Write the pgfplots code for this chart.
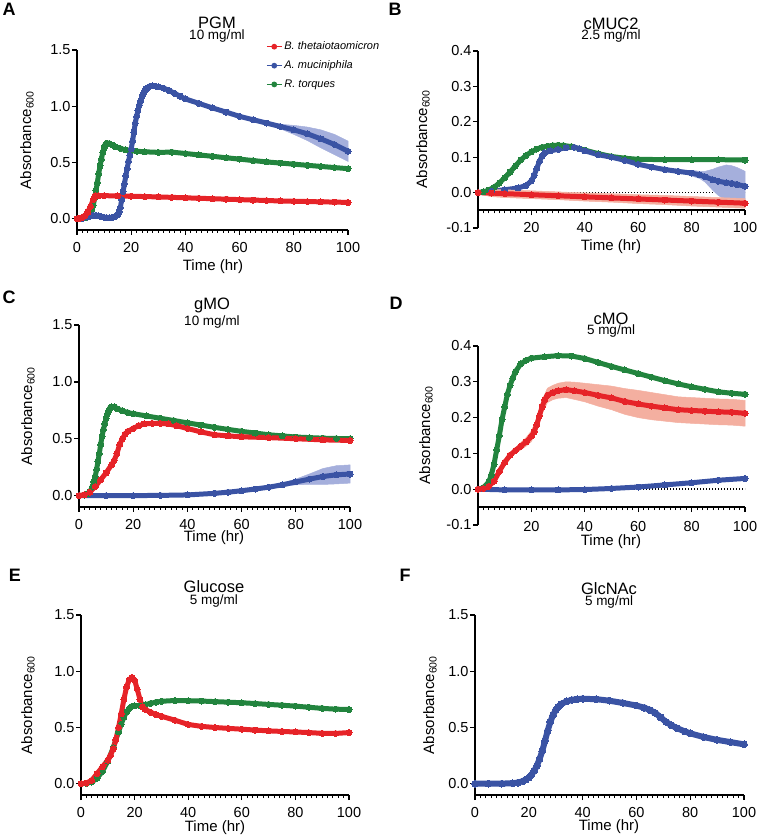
\documentclass[border=0pt]{standalone}
\usepackage{pgfplots}
\pgfplotsset{compat=1.18}
\usepackage{pgfplotstable}
\usepackage{fontspec}
\setmainfont{Liberation Sans}
\definecolor{cred}{RGB}{230,35,40}
\definecolor{cblue}{RGB}{58,83,164}
\definecolor{cgreen}{RGB}{34,132,62}
\definecolor{ered}{RGB}{244,175,160}
\definecolor{eblue}{RGB}{165,175,220}

% ---------- Panel A: PGM ----------
\pgfplotstableread{
x y
0 0
1 0.004
2 0.012
3 0.03
4 0.06
5 0.11
6 0.17
6.5 0.195
7 0.203
8 0.205
10 0.205
15 0.203
20 0.2
25 0.197
30 0.194
35 0.19
40 0.186
45 0.182
50 0.178
55 0.174
60 0.17
65 0.166
70 0.162
75 0.158
80 0.155
85 0.153
90 0.15
95 0.148
100 0.145
}\Ared
\pgfplotstableread{
x y
0 0
2 0.004
4 0.015
5 0.025
6 0.03
7 0.03
8 0.025
9 0.018
10 0.012
11 0.01
12 0.01
13 0.012
14 0.02
15 0.035
15.5 0.06
16 0.1
16.5 0.17
17 0.24
17.5 0.31
18 0.38
18.5 0.445
19 0.51
19.5 0.565
20 0.62
20.5 0.69
21 0.77
21.5 0.85
22 0.91
22.5 0.96
23 1.01
23.5 1.05
24 1.085
24.5 1.115
25 1.14
25.5 1.155
26 1.165
27 1.178
28 1.18
29 1.178
30 1.172
32 1.16
34 1.14
36 1.115
38 1.09
40 1.065
45 1.025
50 0.985
55 0.948
60 0.91
65 0.88
70 0.85
75 0.82
80 0.79
85 0.755
90 0.71
95 0.66
100 0.6
}\Ablue
% error band of A. muciniphila (upper edge, then lower edge back)
\pgfplotstableread{
x y
70 0.855
75 0.84
80 0.83
85 0.815
90 0.79
95 0.75
100 0.69
100 0.51
95 0.57
90 0.63
85 0.695
80 0.75
75 0.80
70 0.845
}\Aband
\pgfplotstableread{
x y
0 0
2 0.003
3 0.008
4 0.02
5 0.05
5.5 0.08
6 0.12
6.5 0.18
7 0.25
7.5 0.32
8 0.4
8.5 0.47
9 0.53
9.5 0.59
10 0.63
10.5 0.66
11 0.672
12 0.668
13 0.655
14 0.642
16 0.625
18 0.612
20 0.605
22 0.6
25 0.595
30 0.59
35 0.592
40 0.58
45 0.567
50 0.555
55 0.542
60 0.53
65 0.517
70 0.505
75 0.495
80 0.485
85 0.475
90 0.465
95 0.455
100 0.445
}\Agreen

% ---------- Panel B: cMUC2 ----------
\pgfplotstableread{
x y
0 0
5 -0.0015
10 -0.003
20 -0.006
30 -0.009
40 -0.012
50 -0.015
60 -0.018
70 -0.021
80 -0.024
90 -0.027
100 -0.03
}\Bred
\pgfplotstableread{
x y
0 0.004
5 0.0085
10 0.008
20 0.005
30 0.002
40 -0.001
50 -0.003
60 -0.006
70 -0.008
80 -0.011
90 -0.014
100 -0.017
100 -0.044
90 -0.041
80 -0.038
70 -0.034
60 -0.031
50 -0.027
40 -0.024
30 -0.02
20 -0.017
10 -0.014
5 -0.0115
0 -0.004
}\Bredband
\pgfplotstableread{
x y
0 0
5 0.004
10 0.008
15 0.013
18 0.02
20 0.033
21 0.048
22 0.068
23 0.088
24 0.103
25 0.112
27 0.118
30 0.122
33 0.127
36 0.128
38 0.124
40 0.118
45 0.107
50 0.1
55 0.091
60 0.08
65 0.072
70 0.065
75 0.06
80 0.055
83 0.05
85 0.045
88 0.036
90 0.032
93 0.028
95 0.026
97 0.023
100 0.018
}\Bblue
\pgfplotstableread{
x y
80 0.063
83 0.06
85 0.06
88 0.066
90 0.072
93 0.078
95 0.076
97 0.071
100 0.06
100 -0.024
97 -0.025
95 -0.024
93 -0.022
90 -0.008
88 0.006
85 0.03
83 0.04
80 0.047
}\Bblueband
\pgfplotstableread{
x y
0 0
2 0.002
4 0.007
6 0.015
8 0.027
10 0.042
12 0.058
14 0.075
16 0.092
18 0.105
20 0.115
22 0.123
24 0.128
26 0.131
28 0.133
30 0.134
32 0.133
35 0.13
40 0.12
45 0.11
50 0.102
55 0.097
60 0.094
70 0.093
80 0.093
90 0.093
100 0.092
}\Bgreen

% ---------- Panel C: gMO ----------
\pgfplotstableread{
x y
0 0
2 0.008
4 0.03
6 0.08
8 0.14
10 0.2
12 0.27
13 0.31
14 0.37
15 0.45
16 0.5
17 0.54
18 0.565
20 0.59
22 0.615
24 0.63
27 0.635
30 0.635
33 0.63
36 0.615
40 0.59
45 0.56
50 0.535
55 0.525
60 0.517
70 0.51
80 0.5
90 0.49
100 0.485
}\Cred
\pgfplotstableread{
x y
0 0
10 0
20 0
30 0.002
40 0.006
50 0.02
55 0.03
60 0.043
65 0.058
70 0.074
75 0.095
80 0.12
85 0.145
90 0.168
95 0.183
100 0.19
}\Cblue
\pgfplotstableread{
x y
70 0.084
75 0.11
80 0.145
85 0.19
90 0.238
95 0.263
100 0.27
100 0.11
95 0.103
90 0.098
85 0.1
80 0.095
75 0.08
70 0.064
}\Cblueband
\pgfplotstableread{
x y
0 0
2 0.005
3 0.015
4 0.035
5 0.08
5.5 0.12
6 0.17
6.5 0.23
7 0.3
7.5 0.37
8 0.45
8.5 0.52
9 0.58
9.5 0.63
10 0.68
10.5 0.72
11 0.75
11.5 0.77
12 0.78
13 0.78
14 0.765
16 0.745
18 0.73
20 0.72
25 0.7
30 0.68
35 0.66
40 0.64
45 0.62
50 0.6
55 0.582
60 0.565
65 0.55
70 0.535
75 0.525
80 0.515
85 0.51
90 0.505
95 0.502
100 0.5
}\Cgreen

% ---------- Panel D: cMO ----------
\pgfplotstableread{
x y
0 0
2 0.002
4 0.008
6 0.022
8 0.05
10 0.075
12 0.095
14 0.108
16 0.12
18 0.132
20 0.148
21 0.16
22 0.18
23 0.205
24 0.23
25 0.25
26 0.262
28 0.27
30 0.275
33 0.278
36 0.275
40 0.27
45 0.262
50 0.255
55 0.245
60 0.238
65 0.232
70 0.227
75 0.222
80 0.22
85 0.218
90 0.216
95 0.215
100 0.212
}\Dred
\pgfplotstableread{
x y
14 0.116
16 0.13
18 0.144
20 0.163
22 0.197
24 0.249
26 0.282
28 0.29
30 0.296
33 0.3
36 0.299
40 0.296
45 0.292
50 0.288
55 0.281
60 0.276
65 0.27
70 0.264
75 0.258
80 0.256
85 0.254
90 0.252
95 0.251
100 0.248
100 0.176
95 0.179
90 0.18
85 0.182
80 0.184
75 0.186
70 0.19
65 0.194
60 0.2
55 0.209
50 0.222
45 0.232
40 0.244
36 0.251
33 0.256
30 0.254
28 0.25
26 0.242
24 0.211
22 0.163
20 0.133
18 0.12
16 0.11
14 0.1
}\Dredband
\pgfplotstableread{
x y
0 0
10 -0.002
20 -0.002
30 -0.002
40 -0.001
50 0.002
60 0.006
70 0.012
80 0.018
90 0.025
100 0.03
}\Dblue
\pgfplotstableread{
x y
0 0
2 0.004
4 0.02
5 0.04
6 0.07
7 0.11
8 0.15
9 0.195
10 0.23
11 0.265
12 0.29
13 0.31
14 0.328
16 0.35
18 0.36
20 0.366
25 0.37
30 0.373
35 0.372
40 0.365
45 0.354
50 0.343
55 0.333
60 0.323
65 0.313
70 0.303
75 0.294
80 0.286
85 0.279
90 0.272
95 0.268
100 0.265
}\Dgreen

% ---------- Panel E: Glucose ----------
\pgfplotstableread{
x y
0 0
2 0.006
4 0.03
6 0.09
8 0.15
10 0.21
11 0.25
12 0.31
13 0.39
14 0.5
15 0.62
16 0.75
17 0.86
18 0.925
19 0.945
20 0.92
21 0.84
22 0.75
23 0.685
24 0.66
26 0.635
28 0.615
30 0.6
35 0.565
40 0.527
45 0.51
50 0.5
55 0.492
60 0.485
65 0.477
70 0.47
75 0.465
80 0.46
85 0.455
90 0.448
95 0.447
100 0.455
}\Ered
\pgfplotstableread{
x y
0 0
2 0.004
4 0.015
6 0.05
8 0.11
10 0.2
12 0.32
13 0.39
14 0.46
15 0.53
16 0.59
17 0.64
18 0.67
19 0.688
20 0.693
22 0.695
24 0.703
26 0.715
28 0.725
30 0.733
35 0.74
40 0.738
45 0.735
50 0.73
55 0.725
60 0.72
65 0.713
70 0.705
75 0.698
80 0.69
85 0.68
90 0.67
95 0.663
100 0.66
}\Egreen

% ---------- Panel F: GlcNAc ----------
\pgfplotstableread{
x y
0 0
5 0
10 0.001
14 0.005
16 0.01
18 0.025
19 0.038
20 0.055
21 0.08
22 0.115
23 0.16
24 0.22
25 0.29
26 0.38
27 0.47
28 0.55
29 0.61
30 0.655
31 0.685
32 0.708
34 0.732
36 0.745
38 0.752
40 0.755
45 0.752
50 0.738
55 0.718
60 0.695
63 0.675
65 0.655
67 0.63
69 0.59
71 0.55
73 0.52
75 0.495
78 0.465
80 0.448
85 0.415
90 0.39
95 0.37
100 0.35
}\Fblue

\pgfplotsset{
  panel/.style={
    scale only axis, anchor=north west,
    axis x line=bottom, axis y line=left,
    axis line style={-, line width=1.6pt},
    xmin=0, xmax=100,
    minor xtick={0,2,...,100},
    tick align=outside,
    major tick length=5pt, minor tick length=3pt,
    tick style={black, line width=1.3pt},
    every minor tick/.append style={line width=0.9pt},
    ticklabel style={font=\fontsize{14.5}{16}\selectfont},
    xticklabel style={yshift=-4pt},
    yticklabel style={xshift=2pt},
    /pgf/number format/assume math mode=true,
    clip=false,
  },
  bigy/.style={ymin=-0.1, ymax=1.5, ytick={0,0.5,1,1.5},
    yticklabels={0.0,0.5,1.0,1.5},
    xtick={0,20,...,100}, xticklabels={0,20,40,60,80,100}},
  smally/.style={ymin=-0.1, ymax=0.4, ytick={-0.1,0,0.1,0.2,0.3,0.4},
    yticklabels={-0.1,0.0,0.1,0.2,0.3,0.4}, axis x line=none},
  xonly/.style={ymin=-0.05, ymax=0.4, axis y line=none,
    xtick={20,40,...,100}, xticklabels={20,40,60,80,100}},
  ser/.style={#1, line width=5pt, line join=round, line cap=round,
    mark=*, mark size=3pt, mark options={line width=0pt, fill=#1}, forget plot},
  band/.style={fill=#1, draw=#1, line width=0.5pt, forget plot},
  zero/.style={black, line width=1.4pt, dash pattern=on 1.4pt off 1.6pt, forget plot},
}

\begin{document}
\begin{tikzpicture}
\useasboundingbox (0pt,0pt) rectangle (756pt,837pt);

% ===== A =====
\begin{axis}[panel, bigy, at={(77pt,787pt)}, width=271pt, height=180pt,
  legend style={draw=none, fill=none, at={(0.686,1.068)}, anchor=north west,
    font=\fontsize{11}{13}\selectfont, row sep=5.5pt},
  legend cell align=left,
  legend image code/.code={\draw[mark repeat=2,mark phase=2,#1] plot coordinates {(0pt,0pt) (7.5pt,0pt) (15pt,0pt)};}]
\addlegendimage{cred, line width=1.3pt, mark=*, mark size=2.2pt}
\addlegendentry{\textit{B. thetaiotaomicron}}
\addlegendimage{cblue, line width=1.3pt, mark=*, mark size=2.2pt}
\addlegendentry{\textit{A. muciniphila}}
\addlegendimage{cgreen, line width=1.3pt, mark=*, mark size=2.2pt}
\addlegendentry{\textit{R. torques}}
\addplot[ser=cgreen] table[x=x,y=y] {\Agreen};
\addplot[band=eblue] table[x=x,y=y] {\Aband};
\addplot[ser=cblue] table[x=x,y=y] {\Ablue};
\addplot[ser=cred] table[x=x,y=y] {\Ared};
\end{axis}

% ===== B =====
\begin{axis}[panel, xonly, at={(478pt,786pt)}, width=267pt, height=159.3pt]
\addplot[draw=none, forget plot] coordinates {(0,0) (100,0)};
\end{axis}
\begin{axis}[panel, smally, at={(478pt,786pt)}, width=267pt, height=177pt]
\addplot[zero] coordinates {(0,0) (100,0)};
\addplot[ser=cgreen] table[x=x,y=y] {\Bgreen};
\addplot[band=eblue] table[x=x,y=y] {\Bblueband};
\addplot[ser=cblue] table[x=x,y=y] {\Bblue};
\addplot[band=ered] table[x=x,y=y] {\Bredband};
\addplot[ser=cred] table[x=x,y=y] {\Bred};
\end{axis}

% ===== C =====
\begin{axis}[panel, bigy, at={(79pt,512pt)}, width=271pt, height=182pt]
\addplot[ser=cgreen] table[x=x,y=y] {\Cgreen};
\addplot[band=eblue] table[x=x,y=y] {\Cblueband};
\addplot[ser=cblue] table[x=x,y=y] {\Cblue};
\addplot[ser=cred] table[x=x,y=y] {\Cred};
\end{axis}

% ===== D =====
\begin{axis}[panel, xonly, at={(478pt,491pt)}, width=267pt, height=161.1pt,
  xticklabel style={yshift=-2pt}]
\addplot[draw=none, forget plot] coordinates {(0,0) (100,0)};
\end{axis}
\begin{axis}[panel, smally, at={(478pt,491pt)}, width=267pt, height=179pt]
\addplot[zero] coordinates {(0,0) (100,0)};
\addplot[ser=cgreen] table[x=x,y=y] {\Dgreen};
\addplot[ser=cblue] table[x=x,y=y] {\Dblue};
\addplot[band=ered] table[x=x,y=y] {\Dredband};
\addplot[ser=cred] table[x=x,y=y] {\Dred};
\end{axis}

% ===== E =====
\begin{axis}[panel, bigy, at={(81pt,222pt)}, width=268pt, height=180pt]
\addplot[ser=cgreen] table[x=x,y=y] {\Egreen};
\addplot[ser=cred] table[x=x,y=y] {\Ered};
\end{axis}

% ===== F =====
\begin{axis}[panel, bigy, at={(475pt,222pt)}, width=269pt, height=180pt]
\addplot[ser=cblue, line width=6pt, mark size=3.4pt] table[x=x,y=y] {\Fblue};
\end{axis}

% ----- texts -----
\tikzset{pl/.style={font=\bfseries\fontsize{18}{20}\selectfont},
  tt/.style={font=\fontsize{16.5}{18}\selectfont, anchor=base, inner sep=0pt},
  st/.style={font=\fontsize{13.5}{14}\selectfont, anchor=base, inner sep=0pt},
  xl/.style={font=\fontsize{15}{17}\selectfont},
  yl/.style={font=\fontsize{15}{17}\selectfont, rotate=90}}
\node[pl] at (9pt,828pt) {A};
\node[pl] at (395pt,828pt) {B};
\node[pl] at (9pt,540pt) {C};
\node[pl] at (396pt,534pt) {D};
\node[pl] at (15pt,262pt) {E};
\node[pl] at (405pt,262pt) {F};

\node[tt] at (217pt,808pt) {PGM};
\node[st] at (217pt,797.5pt) {10 mg/ml};
\node[tt] at (611pt,807.7pt) {cMUC2};
\node[st] at (611pt,797.7pt) {2.5 mg/ml};
\node[tt] at (212pt,527.7pt) {gMO};
\node[st] at (212pt,511.5pt) {10 mg/ml};
\node[tt] at (611pt,512pt) {cMO};
\node[st] at (611pt,502pt) {5 mg/ml};
\node[tt] at (214pt,244pt) {Glucose};
\node[st] at (214pt,232pt) {5 mg/ml};
\node[tt] at (609pt,242.3pt) {GlcNAc};
\node[st] at (609pt,231.2pt) {5 mg/ml};

\node[xl] at (213pt,570pt) {Time (hr)};
\node[xl] at (611pt,590pt) {Time (hr)};
\node[xl] at (214pt,299pt) {Time (hr)};
\node[xl] at (611pt,295.3pt) {Time (hr)};
\node[xl] at (215pt,9pt) {Time (hr)};
\node[xl] at (609pt,10pt) {Time (hr)};

\node[yl] at (27pt,697pt) {Absorbance\textsubscript{600}};
\node[yl] at (423pt,698pt) {Absorbance\textsubscript{600}};
\node[yl] at (28pt,421pt) {Absorbance\textsubscript{600}};
\node[yl] at (426pt,402pt) {Absorbance\textsubscript{600}};
\node[yl] at (28pt,132pt) {Absorbance\textsubscript{600}};
\node[yl] at (430pt,132pt) {Absorbance\textsubscript{600}};
\end{tikzpicture}
\end{document}
